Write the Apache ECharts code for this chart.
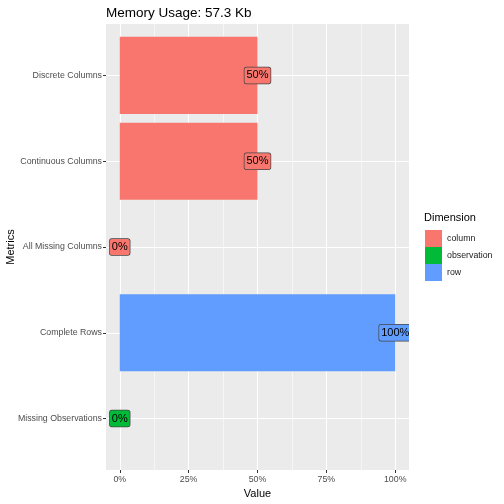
<!DOCTYPE html>
<html>
<head>
<meta charset="utf-8">
<script src="https://cdn.jsdelivr.net/npm/echarts@6/dist/echarts.min.js"></script>
<style>
  html, body { margin: 0; padding: 0; background: #fff; }
  #chart { width: 504px; height: 504px; }
</style>
</head>
<body>
<div id="chart"></div>
<script>
const metrics = ['Discrete Columns', 'Continuous Columns', 'All Missing Columns', 'Complete Rows', 'Missing Observations'];
const values = [50, 50, 0, 100, 0];
const dimensions = ['column', 'column', 'column', 'row', 'observation'];
const legendNames = ['column', 'observation', 'row'];
const dimColors = { column: '#F8766D', observation: '#00BA38', row: '#619CFF' };
const majorTicks = [0, 25, 50, 75, 100];
const minorTicks = [12.5, 37.5, 62.5, 87.5];

const FONT = 'Liberation Sans, Arial, sans-serif';

const renderBar = (params, api) => {
    const v = api.value(0);
    const i = api.value(1);
    const start = api.coord([0, i]);
    const end = api.coord([v, i]);
    const h = api.size([0, 0.9])[1];
    const color = api.visual('color');
    return {
        type: 'group',
        children: [
            {
                type: 'rect',
                shape: { x: start[0], y: start[1] - h / 2, width: end[0] - start[0], height: h },
                style: { fill: color }
            },
            {
                type: 'text',
                x: end[0],
                y: end[1],
                z2: 10,
                style: {
                    text: v + '%',
                    fill: '#000',
                    fontSize: 11,
                    fontFamily: FONT,
                    align: 'center',
                    verticalAlign: 'middle',
                    backgroundColor: color,
                    borderColor: '#444',
                    borderWidth: 0.7,
                    borderRadius: 2,
                    padding: [3, 2, 2, 2]
                }
            }
        ]
    };
};

const series = legendNames.map(name => ({
    name: name,
    type: 'custom',
    renderItem: renderBar,
    clip: true,
    itemStyle: { color: dimColors[name] },
    encode: { x: 0, y: 1 },
    data: values
        .map((v, i) => [v, i, dimensions[i]])
        .filter(d => d[2] === name)
        .map(d => [d[0], d[1]])
}));

const chart = echarts.init(document.getElementById('chart'), null, { renderer: 'canvas' });

chart.setOption({
    backgroundColor: '#fff',
    animation: false,
    title: [
        {
            text: 'Memory Usage: 57.3 Kb',
            left: 101,
            top: 1,
            textStyle: { fontSize: 13.5, fontWeight: 'normal', color: '#000', fontFamily: FONT }
        },
        {
            text: 'Dimension',
            left: 424,
            top: 212,
            padding: 0,
            textStyle: { fontSize: 11, fontWeight: 'normal', color: '#000', fontFamily: FONT }
        }
    ],
    legend: {
        data: legendNames,
        orient: 'vertical',
        left: 425,
        top: 230,
        padding: 0,
        itemWidth: 17,
        itemHeight: 17,
        itemGap: 0,
        icon: 'rect',
        textStyle: { fontSize: 8.8, color: '#1a1a1a', fontFamily: FONT }
    },
    grid: {
        left: 106,
        right: 95,
        top: 24,
        bottom: 34,
        outerBoundsMode: 'none',
        containLabel: false,
        show: true,
        backgroundColor: '#EBEBEB',
        borderWidth: 0
    },
    xAxis: [
        {
            type: 'value',
            min: -5,
            max: 105,
            position: 'bottom',
            name: 'Value',
            nameLocation: 'middle',
            nameGap: 17,
            nameTextStyle: { fontSize: 11, color: '#000', fontFamily: FONT },
            axisLine: { show: false, onZero: false },
            axisTick: { show: true, length: 3, lineStyle: { color: '#333' }, customValues: majorTicks },
            axisLabel: {
                customValues: majorTicks,
                formatter: v => v + '%',
                margin: 5,
                fontSize: 8.8,
                color: '#4D4D4D',
                fontFamily: FONT
            },
            splitLine: { show: true, lineStyle: { color: '#fff', width: 1.1 } }
        },
        {
            type: 'value',
            min: -5,
            max: 105,
            position: 'top',
            axisLine: { show: false, onZero: false },
            axisTick: { show: false, customValues: minorTicks },
            axisLabel: { show: false, customValues: minorTicks },
            splitLine: { show: true, lineStyle: { color: '#fff', width: 0.55 } }
        }
    ],
    yAxis: {
        type: 'value',
        inverse: true,
        min: -0.6,
        max: 4.6,
        position: 'left',
        name: 'Metrics',
        nameLocation: 'middle',
        nameRotate: 90,
        nameGap: 90,
        nameMoveOverlap: false,
        nameTextStyle: { fontSize: 11, color: '#000', fontFamily: FONT },
        axisLine: { show: false, onZero: false },
        axisTick: { show: true, length: 3, lineStyle: { color: '#333' }, customValues: [0, 1, 2, 3, 4] },
        axisLabel: {
            customValues: [0, 1, 2, 3, 4],
            formatter: v => metrics[v],
            margin: 4,
            fontSize: 8.8,
            color: '#4D4D4D',
            fontFamily: FONT
        },
        splitLine: { show: true, lineStyle: { color: '#fff', width: 1.1 } }
    },
    series: series
});
</script>
</body>
</html>
